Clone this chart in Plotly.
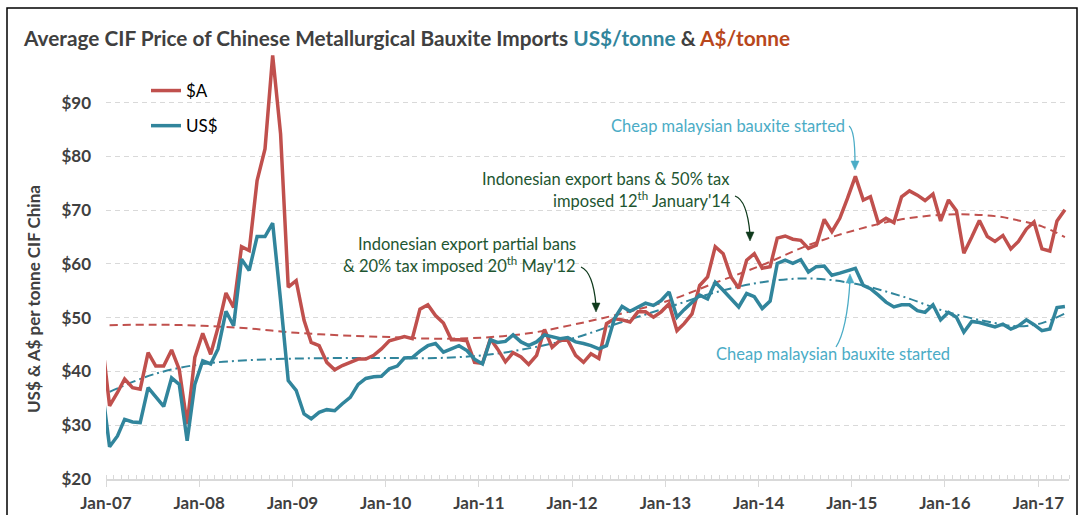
import pandas as pd
import plotly.graph_objects as go

# ---------------- data (monthly, Dec-06 .. Apr-17) ----------------
start_month = "2006-12-01"
end_month = "2017-04-01"

aud = [
    46.5,
    33.6, 36.1, 38.6, 37.0, 36.7, 43.5, 41.0, 41.0, 44.0, 40.4, 30.2, 42.6,
    47.1, 43.2, 48.2, 54.6, 51.9, 63.2, 62.5, 75.5, 81.4, 98.8, 84.2, 55.7,
    56.9, 49.5, 45.4, 44.8, 41.7, 40.3, 41.1, 41.7, 42.3, 42.3, 43.0, 44.2,
    45.7, 46.1, 46.5, 46.1, 51.6, 52.4, 50.4, 49.0, 45.9, 45.9, 45.7, 41.7,
    41.5, 46.1, 44.2, 41.8, 43.5, 42.7, 41.3, 43.0, 47.8, 44.5, 45.8, 45.8,
    43.0, 41.7, 43.3, 42.4, 48.9, 49.8, 49.6, 49.2, 51.1, 51.1, 50.1, 51.1,
    52.6, 47.6, 48.9, 50.7, 56.0, 57.6, 63.2, 61.9, 57.6, 55.5, 60.7, 61.9,
    59.2, 59.5, 64.8, 65.2, 64.6, 64.4, 62.9, 63.5, 68.3, 66.0, 68.5, 72.2,
    76.3, 71.9, 72.5, 67.6, 68.5, 67.7, 72.5, 73.6, 72.8, 71.8, 73.0, 68.0,
    71.9, 69.9, 62.0, 65.0, 68.1, 65.1, 64.2, 65.3, 62.8, 64.2, 66.5, 67.8,
    62.8, 62.4, 68.0, 70.1,
]

usd = [
    37.5,
    26.0, 28.0, 31.1, 30.6, 30.5, 37.0, 35.2, 33.5, 38.8, 37.6, 27.1, 37.6,
    42.0, 41.4, 44.2, 51.2, 48.5, 60.9, 58.8, 65.1, 65.1, 67.6, 53.2, 38.3,
    36.5, 32.1, 31.2, 32.4, 32.9, 32.7, 34.0, 35.2, 37.6, 38.7, 39.0, 39.1,
    40.5, 41.0, 42.5, 42.6, 43.8, 44.8, 45.2, 43.6, 44.2, 44.8, 43.9, 42.3,
    41.4, 45.9, 45.4, 45.6, 46.8, 45.5, 44.8, 45.5, 46.8, 46.4, 46.1, 46.3,
    45.5, 45.2, 44.8, 44.2, 44.8, 49.8, 52.1, 51.2, 51.9, 52.7, 52.3, 53.2,
    54.8, 50.1, 51.5, 52.9, 54.2, 53.5, 56.6, 55.1, 53.5, 52.0, 54.5, 53.9,
    51.7, 53.1, 60.1, 60.7, 60.1, 60.8, 58.5, 59.5, 59.6, 57.9, 58.3, 58.7,
    59.2, 56.0, 55.4, 54.2, 52.9, 52.0, 52.4, 52.4, 51.3, 51.0, 52.4, 49.6,
    51.0, 50.1, 47.3, 49.3, 49.1, 48.7, 48.3, 48.8, 47.9, 48.5, 49.6, 48.7,
    47.6, 47.9, 51.9, 52.1,
]

# trend lines
trend_dates = ["2007-01-15", "2007-07-15", "2008-01-15", "2008-07-15", "2009-01-15", "2009-07-15",
               "2010-01-15", "2010-07-15", "2011-01-15", "2011-07-15", "2012-01-15", "2012-07-15",
               "2013-01-15", "2013-07-15", "2014-01-15", "2014-07-15", "2015-01-15", "2015-07-15",
               "2016-01-15", "2016-07-15", "2016-10-15", "2017-01-15", "2017-04-15"]
aud_trend = [48.6, 48.7, 48.5, 48.0, 47.2, 46.7, 46.4, 46.1, 46.3, 47.1, 48.8, 50.8,
             53.2, 56.5, 59.8, 63.5, 66.3, 68.3, 69.2, 68.9, 68.1, 67.0, 65.0]
usd_trend = [36.2, 39.6, 41.4, 42.1, 42.4, 42.5, 42.5, 42.5, 43.0, 44.3, 46.3, 49.2,
             52.0, 54.7, 56.6, 57.3, 56.3, 54.0, 51.0, 49.0, 48.4, 49.0, 50.8]

tick_years = list(range(2007, 2018))
tick_labels = ["Jan-%02d" % (y % 100) for y in tick_years]
y_ticks = [20, 30, 40, 50, 60, 70, 80, 90]
y_tick_labels = ["$%d" % v for v in y_ticks]

# ---------------- derived ----------------
dates = pd.date_range(start_month, end_month, freq="MS") + pd.Timedelta(days=14)

RED = "#c0504d"
TEAL = "#31859c"
LTEAL = "#4bacc6"
GREEN = "#1e5631"
DGREEN = "#0f3a1c"
GRID = "#d9d9d9"
TXT = "#404040"
FONT = "Lato"

L, R, T, B = 106, 1069, 50, 479


def px(x):
    return (x - L) / (R - L)


def py(y):
    return (B - y) / (B - T)


fig = go.Figure()
fig.add_trace(go.Scatter(x=trend_dates, y=aud_trend, mode="lines", showlegend=False,
                         line=dict(color=RED, width=2, dash="8px,5px", shape="spline", smoothing=1.0),
                         hoverinfo="skip"))
fig.add_trace(go.Scatter(x=trend_dates, y=usd_trend, mode="lines", showlegend=False,
                         line=dict(color=TEAL, width=2, dash="9px,4px,2px,4px", shape="spline", smoothing=1.0),
                         hoverinfo="skip"))
fig.add_trace(go.Scatter(x=dates, y=aud, mode="lines", name="$A", legendgroup="a",
                         line=dict(color=RED, width=3.5)))
fig.add_trace(go.Scatter(x=dates, y=usd, mode="lines", name="US$", legendgroup="u",
                         line=dict(color=TEAL, width=3.5)))

ann_font = dict(family=FONT, size=16.5)
annotations = [
    dict(x=px(21), y=py(37), xanchor="left", yanchor="middle",
         text=("Average CIF Price of Chinese Metallurgical Bauxite Imports "
               "<span style='color:#31849b'>US$/tonne</span> &amp; "
               "<span style='color:#b8471c'>A$/tonne</span>"),
         font=dict(family=FONT, size=20.8, color=TXT, weight="bold")),
    dict(x=px(33), y=py(299), xanchor="center", yanchor="middle", textangle=-90,
         text="US$ &amp; A$ per tonne CIF China",
         font=dict(family=FONT, size=17, color=TXT, weight="bold")),
    dict(x=px(578), y=py(244), xanchor="right", yanchor="middle",
         text="Indonesian export partial bans", font=dict(ann_font, color=GREEN)),
    dict(x=px(578), y=py(265), xanchor="right", yanchor="middle",
         text="&amp; 20% tax imposed 20<sup>th</sup> May'12", font=dict(ann_font, color=GREEN)),
    dict(x=px(732), y=py(179), xanchor="right", yanchor="middle",
         text="Indonesian export bans &amp; 50% tax", font=dict(ann_font, color=GREEN)),
    dict(x=px(733), y=py(200), xanchor="right", yanchor="middle",
         text="imposed 12<sup>th</sup> January'14", font=dict(ann_font, color=GREEN)),
    dict(x=px(847), y=py(126), xanchor="right", yanchor="middle",
         text="Cheap malaysian bauxite started", font=dict(ann_font, color=LTEAL)),
    dict(x=px(952), y=py(354), xanchor="right", yanchor="middle",
         text="Cheap malaysian bauxite started", font=dict(ann_font, color=LTEAL)),
]
for a in annotations:
    a.update(xref="paper", yref="paper", showarrow=False)


def curve(p0, c, p1):
    return "M %f,%f Q %f,%f %f,%f" % (px(p0[0]), py(p0[1]), px(c[0]), py(c[1]), px(p1[0]), py(p1[1]))


def head(hx, hy, down=True):
    s = -1 if down else 1
    return "M %f,%f L %f,%f L %f,%f Z" % (px(hx), py(hy), px(hx - 4), py(hy + s * 9),
                                          px(hx + 4), py(hy + s * 9))


shapes = []
for p0, c, p1, col, down in [((581, 267), (593, 272), (596, 305), DGREEN, True),
                             ((735, 196), (747, 200), (750, 234), DGREEN, True),
                             ((849, 126), (855, 130), (855, 163), LTEAL, True),
                             ((836, 347), (847, 330), (850, 281), LTEAL, False)]:
    shapes.append(dict(type="path", xref="paper", yref="paper", path=curve(p0, c, p1),
                       line=dict(color=col, width=1.3)))
    hy = p1[1] + (7 if down else -7)
    shapes.append(dict(type="path", xref="paper", yref="paper", path=head(p1[0], hy, down),
                       line=dict(color=col, width=0.5), fillcolor=col))
shapes.append(dict(type="rect", xref="paper", yref="paper", x0=px(7), x1=px(1077), y0=py(8),
                   y1=py(560), line=dict(color="black", width=1.5), layer="above"))

fig.update_layout(
    width=1085, height=515,
    margin=dict(l=L, r=1085 - R, t=T, b=515 - B, pad=0),
    paper_bgcolor="white", plot_bgcolor="white",
    font=dict(family=FONT, color=TXT),
    showlegend=True,
    legend=dict(x=px(146), y=py(73), xanchor="left", yanchor="top",
                font=dict(family=FONT, size=17, color="#000000"),
                bgcolor="rgba(0,0,0,0)", tracegroupgap=10, itemwidth=30),
    annotations=annotations,
    shapes=shapes,
    xaxis=dict(type="date", range=["2007-01-01", "2017-05-01"], automargin=False,
               tickmode="array", tickvals=["%d-01-01" % y for y in tick_years], ticktext=tick_labels,
               ticks="outside", ticklen=6, tickcolor=GRID, tickwidth=1.3,
               showline=True, linecolor=GRID, linewidth=1.5, showgrid=False, zeroline=False,
               tickfont=dict(family=FONT, size=17, color=TXT, weight="bold"),
               ticklabelstandoff=2,
               minor=dict(tickmode="linear", tick0="2007-01-01", dtick="M1", ticks="inside",
                          ticklen=4, tickcolor=GRID, tickwidth=1, showgrid=False)),
    yaxis=dict(range=[20, 99.8], tickmode="array", tickvals=y_ticks, ticktext=y_tick_labels,
               automargin=False,
               showgrid=True, gridcolor=GRID, gridwidth=1.3, griddash="5px,4px",
               showline=False, zeroline=False, ticks="",
               tickfont=dict(family=FONT, size=17, color=TXT, weight="bold"),
               ticklabelstandoff=14),
)

fig.write_html("out.html", config={"displayModeBar": False},
               post_script="document.body.style.margin='0';")
